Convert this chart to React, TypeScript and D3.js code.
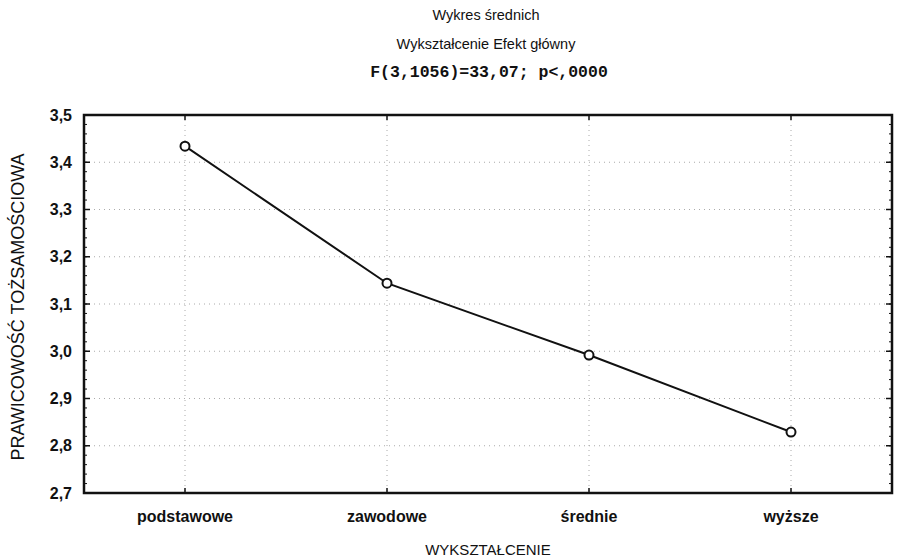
import React from "react";
import * as d3 from "d3";

const categories = ["podstawowe", "zawodowe", "średnie", "wyższe"];
const means = [3.434, 3.144, 2.992, 2.829];
const yTicks = [2.7, 2.8, 2.9, 3.0, 3.1, 3.2, 3.3, 3.4, 3.5];
const titleLines = ["Wykres średnich", "Wykształcenie Efekt główny"];
const statLine = "F(3,1056)=33,07; p<,0000";
const xTitle = "WYKSZTAŁCENIE";
const yTitle = "PRAWICOWOŚĆ TOŻSAMOŚCIOWA";

export default function App() {
  const W = 898, H = 560;
  const left = 84, right = 892, top = 115, bottom = 493;
  const x = d3.scalePoint<string>().domain(categories).range([left, right]).padding(0.5);
  const y = d3.scaleLinear().domain([2.7, 3.5]).range([bottom, top]);
  const line = d3.line<number>().x((_, i) => x(categories[i])!).y((d) => y(d));
  const minor = d3.range(2.7, 3.5001, 0.02);
  const fmt = (v: number) => v.toFixed(1).replace(".", ",");
  const font = "Liberation Sans, Arial, sans-serif";
  return (
    <svg width={W} height={H} style={{ position: "absolute", left: 0, top: 0, background: "#fff" }}>
      <rect width={W} height={H} fill="#fff" />
      <text x={486} y={20} textAnchor="middle" fontFamily={font} fontSize={14.5} fill="#111">{titleLines[0]}</text>
      <text x={486} y={49} textAnchor="middle" fontFamily={font} fontSize={14.5} fill="#111">{titleLines[1]}</text>
      <text x={489} y={77} textAnchor="middle" fontFamily="Liberation Mono, Courier New, monospace" fontWeight="bold" fontSize={16.5} fill="#111">{statLine}</text>
      {yTicks.slice(1, -1).map((t) => (
        <line key={"gy" + t} x1={left} x2={right} y1={y(t)} y2={y(t)} stroke="#aaa" strokeWidth={1} strokeDasharray="1,4" />
      ))}
      {categories.map((c) => (
        <line key={"gx" + c} x1={x(c)} x2={x(c)} y1={top} y2={bottom} stroke="#aaa" strokeWidth={1} strokeDasharray="1,4" />
      ))}
      {minor.map((t, i) => (
        <g key={"mt" + i}>
          <line x1={left} x2={left + 3} y1={y(t)} y2={y(t)} stroke="#111" strokeWidth={1} />
          <line x1={right} x2={right - 3} y1={y(t)} y2={y(t)} stroke="#111" strokeWidth={1} />
        </g>
      ))}
      {yTicks.map((t) => (
        <g key={"yt" + t}>
          <line x1={left} x2={left + 6} y1={y(t)} y2={y(t)} stroke="#111" strokeWidth={1.5} />
          <line x1={right} x2={right - 6} y1={y(t)} y2={y(t)} stroke="#111" strokeWidth={1.5} />
          <text x={left - 12} y={y(t) + 5.5} textAnchor="end" fontFamily={font} fontWeight="bold" fontSize={16} fill="#111">{fmt(t)}</text>
        </g>
      ))}
      {categories.map((c) => (
        <g key={"xt" + c}>
          <line x1={x(c)} x2={x(c)} y1={bottom} y2={bottom - 5} stroke="#111" strokeWidth={1.5} />
          <line x1={x(c)} x2={x(c)} y1={top} y2={top + 5} stroke="#111" strokeWidth={1.5} />
          <text x={x(c)} y={bottom + 29} textAnchor="middle" fontFamily={font} fontWeight="bold" fontSize={16} fill="#111">{c}</text>
        </g>
      ))}
      <rect x={left} y={top} width={right - left} height={bottom - top} fill="none" stroke="#111" strokeWidth={2.5} />
      <path d={line(means)!} fill="none" stroke="#111" strokeWidth={2} />
      {means.map((m, i) => (
        <circle key={"p" + i} cx={x(categories[i])} cy={y(m)} r={4.5} fill="#fff" stroke="#111" strokeWidth={2} />
      ))}
      <text x={488} y={555} textAnchor="middle" fontFamily={font} fontSize={15} fill="#111">{xTitle}</text>
      <text transform={`translate(24,307) rotate(-90)`} textAnchor="middle" fontFamily={font} fontSize={18} fill="#111">{yTitle}</text>
    </svg>
  );
}
